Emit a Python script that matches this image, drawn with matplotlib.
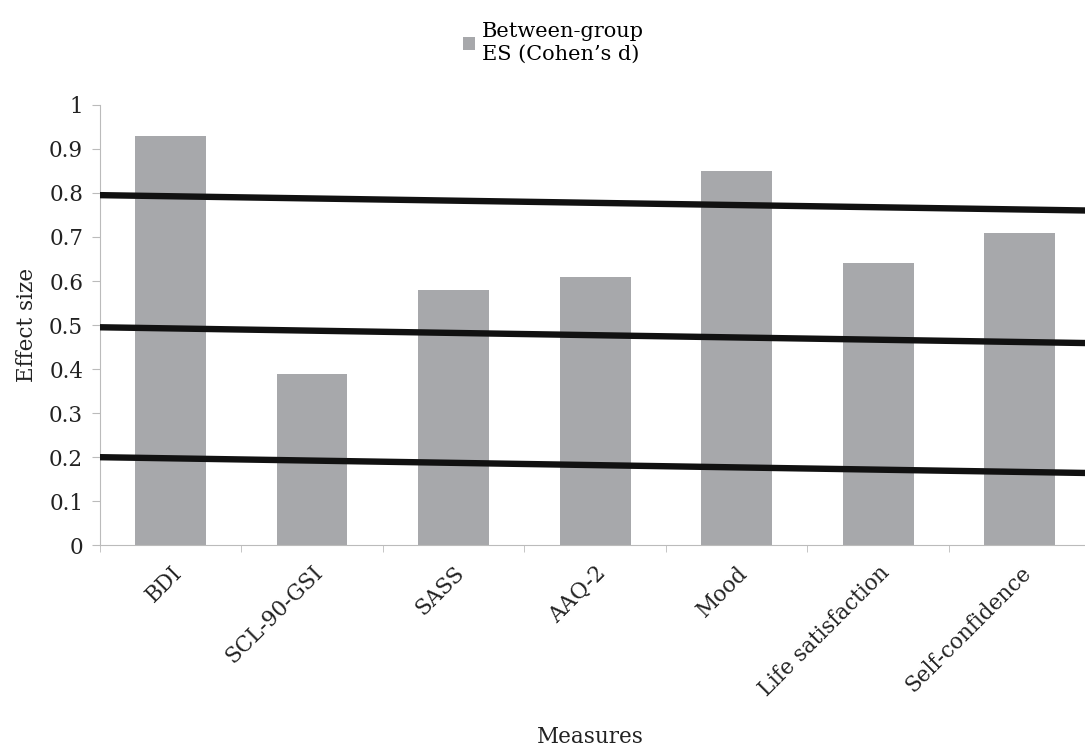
import matplotlib
matplotlib.use("Agg")
import matplotlib.pyplot as plt
import numpy as np

measures = ["BDI", "SCL-90-GSI", "SASS", "AAQ-2", "Mood", "Life satisfaction", "Self-confidence"]
effect_sizes = [0.93, 0.39, 0.58, 0.61, 0.85, 0.64, 0.71]

# reference lines (small / medium / large), drawn slightly tilted as in the source
ref_left = [0.2, 0.495, 0.795]
ref_right = [0.164, 0.459, 0.76]

plt.rcParams["font.family"] = ["DejaVu Serif"]

fig = plt.figure(figsize=(10.85, 7.49), dpi=100)
ax = fig.add_axes([0.092, 0.272, 0.913, 0.588])

x = np.arange(len(measures))
bars = ax.bar(x, effect_sizes, width=0.5, color="#a7a8ab", zorder=1,
              label="Between-group\nES (Cohen\u2019s d)")

x0, x1 = -0.5, len(measures) - 0.5
for yl, yr in zip(ref_left, ref_right):
    ax.plot([x0, x1], [yl, yr], color="#111111", lw=4.6, solid_capstyle="butt", zorder=3)

ax.set_xlim(x0, x1)
ax.set_ylim(0, 1)
ax.set_yticks(np.arange(0, 1.01, 0.1))
ax.set_yticklabels(["0"] + [f"{v:.1f}" for v in np.arange(0.1, 0.95, 0.1)] + ["1"])
ax.set_xticks(x)
ax.set_xticklabels(measures, rotation=45, ha="right", rotation_mode="anchor")
ax.set_xticks(np.arange(-0.5, len(measures), 1), minor=True)
ax.tick_params(axis="x", which="major", length=0, pad=12)
ax.tick_params(axis="x", which="minor", length=5, color="#bbbbbb")
ax.tick_params(axis="y", length=6, color="#bbbbbb", pad=6)
ax.tick_params(labelsize=15.5, labelcolor="#222222")

for side in ["top", "right"]:
    ax.spines[side].set_visible(False)
for side in ["left", "bottom"]:
    ax.spines[side].set_color("#bbbbbb")

ax.set_ylabel("Effect size", fontsize=15.5, color="#222222", labelpad=8)
fig.text(0.544, 1 - 737 / 749, "Measures", fontsize=15.5, color="#222222",
         ha="center", va="center")

fig.legend(handles=[bars], loc="upper center", bbox_to_anchor=(0.51, 0.995),
           frameon=False, fontsize=15, handlelength=0.6, handleheight=0.6,
           handletextpad=0.3)

fig.savefig("out.png", dpi=100)
